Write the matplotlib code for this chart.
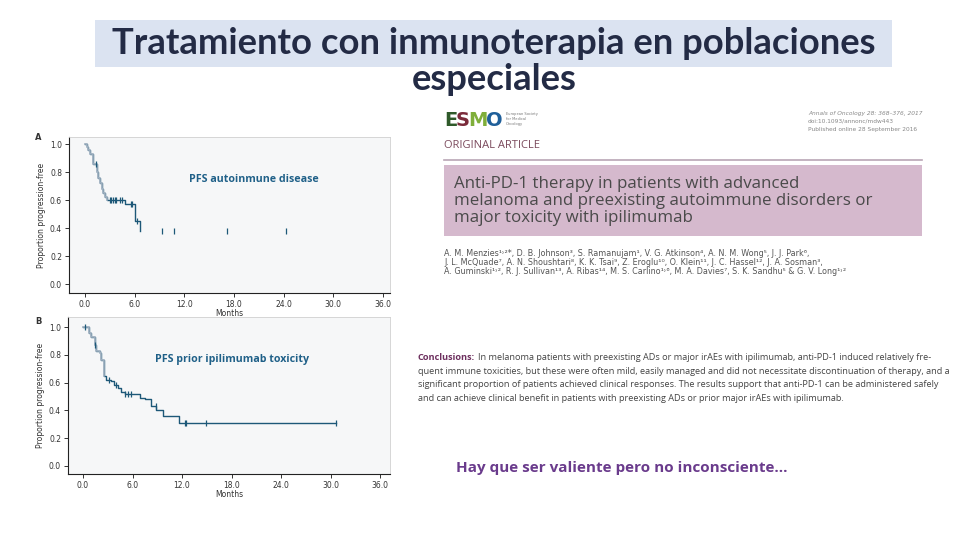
import numpy as np
import matplotlib
matplotlib.use("Agg")
import matplotlib.pyplot as plt
from matplotlib.patches import Rectangle

# --- data ---
title_lines = ["Tratamiento con inmunoterapia en poblaciones", "especiales"]

# panel A: PFS autoimmune disease (step curve + censor marks)
a_time = [0.0, 0.2, 0.4, 0.6, 1.0, 1.4, 1.6, 1.8, 2.0, 2.2, 2.4, 2.7, 4.8, 6.1, 6.6]
a_surv = [1.0, 0.98, 0.96, 0.93, 0.86, 0.80, 0.76, 0.72, 0.68, 0.65, 0.62, 0.60, 0.57, 0.45, 0.38]
a_cens = [1.3, 3.0, 3.2, 3.4, 3.6, 3.8, 4.2, 4.5, 5.5, 5.7, 6.3, 9.3, 10.7, 17.1, 24.3]
a_split = 2.7

# panel B: PFS prior ipilimumab toxicity
b_time = [0.0, 0.7, 1.0, 1.4, 1.6, 2.0, 2.2, 2.6, 2.8, 3.4, 3.8, 4.2, 4.65, 5.05,
          6.9, 7.5, 8.2, 8.9, 9.7, 11.65, 30.7]
b_surv = [1.0, 0.96, 0.93, 0.87, 0.83, 0.81, 0.76, 0.65, 0.62, 0.61, 0.58, 0.56, 0.535, 0.52,
          0.49, 0.48, 0.43, 0.40, 0.36, 0.31, 0.31]
b_cens = [0.2, 1.5, 3.2, 4.0, 5.1, 5.5, 5.8, 8.8, 12.3, 12.5, 14.9, 30.7]
b_split = 2.6

x_ticks = [0, 6, 12, 18, 24, 30, 36]
y_ticks = [0.0, 0.2, 0.4, 0.6, 0.8, 1.0]

journal_lines = ["Annals of Oncology 28: 368\u2013376, 2017",
                 "doi:10.1093/annonc/mdw443",
                 "Published online 28 September 2016"]
article_title = ["Anti-PD-1 therapy in patients with advanced",
                 "melanoma and preexisting autoimmune disorders or",
                 "major toxicity with ipilimumab"]
authors = ["A. M. Menzies\u00b9\u02d2\u00b2*, D. B. Johnson\u00b3, S. Ramanujam\u00b9, V. G. Atkinson\u2074, A. N. M. Wong\u2075, J. J. Park\u2076,",
           "J. L. McQuade\u2077, A. N. Shoushtari\u2078, K. K. Tsai\u2079, Z. Eroglu\u00b9\u2070, O. Klein\u00b9\u00b9, J. C. Hassel\u00b9\u00b2, J. A. Sosman\u00b3,",
           "A. Guminski\u00b9\u02d2\u00b2, R. J. Sullivan\u00b9\u00b3, A. Ribas\u00b9\u2074, M. S. Carlino\u00b9\u02d2\u2076, M. A. Davies\u2077, S. K. Sandhu\u2075 & G. V. Long\u00b9\u02d2\u00b2"]
concl_lines = ["In melanoma patients with preexisting ADs or major irAEs with ipilimumab, anti-PD-1 induced relatively fre-",
               "quent immune toxicities, but these were often mild, easily managed and did not necessitate discontinuation of therapy, and a",
               "significant proportion of patients achieved clinical responses. The results support that anti-PD-1 can be administered safely",
               "and can achieve clinical benefit in patients with preexisting ADs or prior major irAEs with ipilimumab."]
footer = "Hay que ser valiente pero no inconsciente\u2026"

TEAL = "#1d5878"
GREYLINE = "#9fb0c0"

fig = plt.figure(figsize=(9.6, 5.4), dpi=100)
fig.patch.set_facecolor("white")

# pixel-space overlay for all slide text
bg = fig.add_axes([0, 0, 1, 1], zorder=0)
bg.set_xlim(0, 960)
bg.set_ylim(540, 0)
bg.axis("off")

# title
bg.add_patch(Rectangle((95, 20), 797, 47, color="#dbe3f1", lw=0))
bg.text(494, 44, title_lines[0], ha="center", va="center", fontsize=26.2,
        family="Lato", weight="bold", color="#232b45")
bg.text(494, 80, title_lines[1], ha="center", va="center", fontsize=26.2,
        family="Lato", weight="bold", color="#232b45")


def km_panel(rect, times, surv, cens, split, label, lab_xy, xlim, ylim):
    ax = fig.add_axes(rect, zorder=2)
    ax.set_facecolor("#f6f7f8")
    t = np.array(times)
    s = np.array(surv)
    ax.step(t, s, where="post", color=TEAL, lw=1.0)
    m = t <= split
    ax.step(t[m], s[m], where="post", color=GREYLINE, lw=1.2)
    c = np.array(cens)
    idx = np.searchsorted(t, c, side="right") - 1
    ax.plot(c, s[idx], ls="none", marker="|", ms=4, mew=0.9, color=TEAL)
    ax.set_xlim(*xlim)
    ax.set_ylim(*ylim)
    ax.set_xticks(x_ticks)
    ax.set_xticklabels([f"{v:.1f}" for v in x_ticks])
    ax.set_yticks(y_ticks)
    ax.set_yticklabels([f"{v:.1f}" for v in y_ticks])
    ax.tick_params(labelsize=5.5, length=3, width=0.7, colors="#333333", pad=2)
    for side in ["left", "bottom"]:
        ax.spines[side].set_color("#222222")
        ax.spines[side].set_linewidth(0.8)
    for side in ["top", "right"]:
        ax.spines[side].set_color("#d0d0d0")
        ax.spines[side].set_linewidth(0.6)
    ax.set_xlabel("Months", fontsize=5.5, color="#333333", labelpad=0)
    ax.set_ylabel("Proportion progression-free", fontsize=5.5, color="#333333", labelpad=3)
    ax.text(lab_xy[0], lab_xy[1], label, transform=ax.transAxes, ha="center", va="center",
            fontsize=7.7, family="Open Sans", weight="bold", color="#1f6088")
    return ax


km_panel([69 / 960, 1 - 293 / 540, 321 / 960, 156 / 540], a_time, a_surv, a_cens, a_split,
         "PFS autoinmune disease", (0.575, 0.73), (-1.93, 36.85), (-0.064, 1.05))
km_panel([68 / 960, 1 - 474 / 540, 322 / 960, 157 / 540], b_time, b_surv, b_cens, b_split,
         "PFS prior ipilimumab toxicity", (0.51, 0.73), (-1.82, 37.2), (-0.058, 1.072))

bg.text(35, 137, "A", fontsize=6, weight="bold", color="#333333", va="center")
bg.text(35, 322, "B", fontsize=6, weight="bold", color="#333333", va="center")

fig.canvas.draw()
rend = fig.canvas.get_renderer()

# article header: ESMO logo, letters packed side by side
logo_cols = ["#2f5a2a", "#7a2a3a", "#7fae3a", "#1f5f9a"]
lx = 444
for ch, col in zip("ESMO", logo_cols):
    t = bg.text(lx, 121, ch, fontsize=14, weight="heavy", family="DejaVu Sans",
                color=col, va="center", ha="left")
    lx = t.get_window_extent(rend).x1 - 1.5
for i, w in enumerate(["European Society", "for Medical", "Oncology"]):
    bg.text(lx + 5, 114 + i * 5, w, fontsize=2.6, color="#777777", va="center")
for i, line in enumerate(journal_lines):
    bg.text(808, 113 + i * 8, line, fontsize=4.2, color="#888888", va="center",
            style="italic" if i == 0 else "normal")
bg.text(444, 145, "ORIGINAL ARTICLE", fontsize=8, family="Open Sans",
        color="#7b4a5c", va="center")
bg.plot([444, 922], [160, 160], color="#b9a5b5", lw=1.2)
bg.add_patch(Rectangle((444, 165), 478, 71, color="#d5b9cd", lw=0))
for i, line in enumerate(article_title):
    bg.text(454, 184 + i * 17, line, fontsize=12.2, family="Open Sans",
            color="#4a4a4a", va="center")
for i, line in enumerate(authors):
    bg.text(444, 253 + i * 9.5, line, fontsize=5.8, color="#555555", va="center",
            family="DejaVu Sans")

# conclusions paragraph
lead = bg.text(418, 357, "Conclusions:", fontsize=6.6, weight="bold", color="#6d2f5e",
               va="center", family="Open Sans")
bb = lead.get_window_extent(rend)
bg.text(bb.x1 + 3, 357, concl_lines[0], fontsize=6.6, color="#444444", va="center",
        family="Open Sans")
for i, line in enumerate(concl_lines[1:]):
    bg.text(418, 371 + i * 13.7, line, fontsize=6.6, color="#444444", va="center",
            family="Open Sans")

bg.text(456, 468, footer, fontsize=11, weight="bold", color="#6a3b8c", va="center",
        family="Open Sans")

fig.savefig("out.png", dpi=100)
